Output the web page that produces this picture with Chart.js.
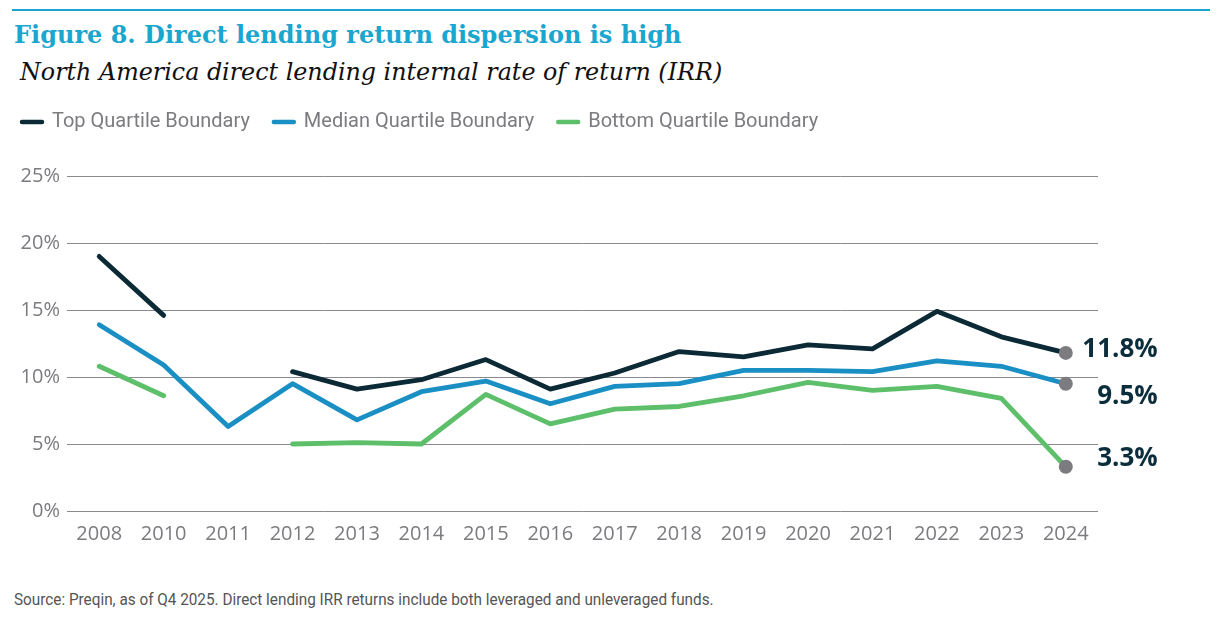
<!DOCTYPE html>
<html>
<head>
<meta charset="utf-8">
<script src="https://cdn.jsdelivr.net/npm/chart.js@4.4.1/dist/chart.umd.min.js"></script>
<style>
  body { margin: 0; background: #fff; width: 1228px; height: 620px; position: relative; overflow: hidden; }
  #rule { position: absolute; left: 12px; top: 9px; width: 1198px; height: 2px; background: #1aa6cf; }
  #title { position: absolute; left: 14px; top: 20px; font-family: "DejaVu Serif", serif; font-weight: bold; font-size: 24px; color: #1aa6cf; white-space: nowrap; }
  #subtitle { position: absolute; left: 20px; top: 58px; font-family: "DejaVu Serif", serif; font-style: italic; font-size: 23.8px; color: #111; white-space: nowrap; }
  #box { position: absolute; left: -2px; top: 88px; width: 1230px; height: 461px; }
  #source { position: absolute; left: 14px; top: 589px; font-family: "Roboto", sans-serif; font-size: 17px; color: #555; white-space: nowrap; transform: scaleX(0.9); transform-origin: left top; }
</style>
</head>
<body>
<div id="rule"></div>
<div id="title">Figure 8. Direct lending return dispersion is high</div>
<div id="subtitle">North America direct lending internal rate of return (IRR)</div>
<div id="box"><canvas id="myChart"></canvas></div>
<div id="source">Source: Preqin, as of Q4 2025. Direct lending IRR returns include both leveraged and unleveraged funds.</div>
<script>
// data
const years = ['2008', '2010', '2011', '2012', '2013', '2014', '2015', '2016', '2017', '2018', '2019', '2020', '2021', '2022', '2023', '2024'];
const topQuartile = [19.0, 14.6, null, 10.4, 9.1, 9.8, 11.3, 9.1, 10.3, 11.9, 11.5, 12.4, 12.1, 14.9, 13.0, 11.8];
const medianQuartile = [13.9, 10.9, 6.3, 9.5, 6.8, 8.9, 9.7, 8.0, 9.3, 9.5, 10.5, 10.5, 10.4, 11.2, 10.8, 9.5];
const bottomQuartile = [10.8, 8.6, null, 5.0, 5.1, 5.0, 8.7, 6.5, 7.6, 7.8, 8.6, 9.6, 9.0, 9.3, 8.4, 3.3];
const yTicks = [0, 5, 10, 15, 20, 25];

const gray = '#7b7b80';
const navy = '#0b2d3c';

// y shift of the end value labels
const endLabelShift = [-3, 13, -8];

const endLabels = {
    id: 'endLabels',
    afterDatasetsDraw(chart) {
        const ctx = chart.ctx;
        chart.data.datasets.forEach((ds, i) => {
            const meta = chart.getDatasetMeta(i);
            const last = ds.data.length - 1;
            const pt = meta.data[last];
            ctx.save();
            ctx.fillStyle = gray;
            ctx.beginPath();
            ctx.arc(pt.x, pt.y, 7, 0, Math.PI * 2);
            ctx.fill();
            ctx.fillStyle = navy;
            ctx.font = 'bold 26px "Open Sans", sans-serif';
            ctx.textAlign = 'right';
            ctx.textBaseline = 'middle';
            ctx.fillText(ds.data[last].toFixed(1) + '%', pt.x + 92, pt.y + endLabelShift[i]);
            ctx.restore();
        });
    }
};

// extra room under the legend
const legendGap = {
    id: 'legendGap',
    beforeInit(chart) {
        const fit = chart.legend.fit;
        chart.legend.fit = function () {
            fit.bind(chart.legend)();
            this.height += 34;
        };
    }
};

const ctx = document.getElementById('myChart').getContext('2d');
const myChart = new Chart(ctx, {
    type: 'line',
    data: {
        labels: years,
        datasets: [{
            label: 'Top Quartile Boundary',
            data: topQuartile,
            borderColor: '#0b2a36',
            backgroundColor: '#0b2a36'
        }, {
            label: 'Median Quartile Boundary',
            data: medianQuartile,
            borderColor: '#1a8fc4',
            backgroundColor: '#1a8fc4'
        }, {
            label: 'Bottom Quartile Boundary',
            data: bottomQuartile,
            borderColor: '#5dbf69',
            backgroundColor: '#5dbf69'
        }]
    },
    options: {
        responsive: true,
        maintainAspectRatio: false,
        animation: false,
        spanGaps: false,
        layout: { padding: { left: 0, right: 130, top: 0, bottom: 0 } },
        elements: {
            line: { borderWidth: 4.8, tension: 0, borderCapStyle: 'round', borderJoinStyle: 'round' },
            point: { radius: 0 }
        },
        plugins: {
            tooltip: { enabled: false },
            legend: {
                align: 'start',
                labels: {
                    usePointStyle: true,
                    pointStyle: 'line',
                    pointStyleWidth: 20,
                    color: gray,
                    font: { family: 'Roboto', size: 20 },
                    padding: 24,
                    generateLabels: chart => chart.data.datasets.map((ds, i) => ({
                        text: ds.label,
                        strokeStyle: ds.borderColor,
                        fillStyle: ds.borderColor,
                        lineWidth: 4.5,
                        lineCap: 'round',
                        pointStyle: 'line',
                        fontColor: gray,
                        datasetIndex: i
                    }))
                }
            }
        },
        scales: {
            x: {
                offset: true,
                grid: { display: false },
                border: { display: false },
                ticks: { color: gray, font: { family: '"Open Sans"', size: 20 }, padding: 3 }
            },
            y: {
                min: 0,
                max: 25,
                afterBuildTicks: scale => { scale.ticks = yTicks.map(v => ({ value: v })); },
                afterFit: scale => { scale.width = 69; },
                grid: { color: '#8a8a8e', lineWidth: 1, drawTicks: false },
                border: { display: false },
                ticks: {
                    color: gray,
                    font: { family: '"Open Sans"', size: 20 },
                    padding: 7,
                    callback: v => v + '%'
                }
            }
        }
    },
    plugins: [endLabels, legendGap]
});
</script>
</body>
</html>
